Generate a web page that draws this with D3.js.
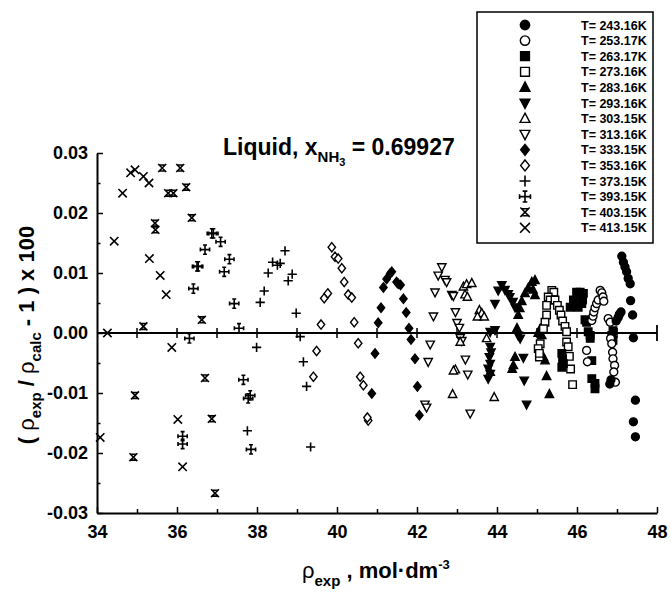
<!DOCTYPE html>
<html>
<head>
<meta charset="utf-8">
<script src="https://cdn.jsdelivr.net/npm/d3@7"></script>
<style>
  body { margin: 0; background: #fff; }
  svg text { font-family: "Liberation Sans", Arial, sans-serif; font-weight: bold; fill: #000; }
</style>
</head>
<body>
<div id="chart"></div>
<script>
// tick values
var xTicks = [34, 36, 38, 40, 42, 44, 46, 48];
var xMinor = [35, 37, 39, 41, 43, 45, 47];
var yTicks = [-0.03, -0.02, -0.01, 0.00, 0.01, 0.02, 0.03];
var yMinor = [-0.025, -0.015, -0.005, 0.005, 0.015, 0.025];
var zeroTicks = [35, 36, 37, 38, 39, 40, 41, 42, 43, 44, 45, 46, 47];

// legend labels (as printed)
var tempLabels = ["T= 243.16K", "T= 253.17K", "T= 263.17K", "T= 273.16K", "T= 283.16K", "T= 293.16K",
  "T= 303.15K", "T= 313.16K", "T= 333.15K", "T= 353.16K", "T= 373.15K", "T= 393.15K", "T= 403.15K", "T= 413.15K"];

// deviations [rho_exp, dev] per isotherm
var t243 = [[46.98,0.0020],[47.03,0.0026],[47.06,0.0031],[47.10,0.0035],[47.12,0.0128],[47.16,0.0118],[47.20,0.0110],
  [47.24,0.0102],[47.28,0.0091],[47.33,0.0082],[47.34,0.0054],[47.39,0.0030],[47.41,-0.0008],[47.46,-0.0112],
  [47.41,-0.0148],[47.46,-0.0173],[46.85,-0.0078],[46.82,-0.0085]];
var t253 = [[46.37,0.0021],[46.40,0.0028],[46.42,0.0035],[46.45,0.0042],[46.49,0.0049],[46.53,0.0055],[46.58,0.0071],
  [46.62,0.0067],[46.65,0.0060],[46.67,0.0053],[46.78,0.0024],[46.83,0.0018],[46.84,-0.0009],[46.87,-0.0018],
  [46.89,-0.0032],[46.90,-0.0043],[46.94,-0.0054],[46.92,-0.0065],[46.96,-0.0082],[46.24,-0.0029],[46.26,-0.0048]];
var t263 = [[45.83,0.0043],[45.91,0.0055],[45.99,0.0068],[46.08,0.0068],[46.12,0.0060],[46.12,0.0049],[46.03,0.0043],
  [46.16,0.0066],[46.14,0.0055],[46.20,0.0022],[46.24,0.0018],[46.28,0.0002],[46.33,-0.0004],[46.33,-0.0009],
  [46.37,-0.0046],[46.37,-0.0076],[46.45,-0.0084],[46.45,-0.0093],[45.62,-0.0034],[45.64,-0.0043],[45.66,-0.0051],
  [45.62,-0.0057],[46.90,0.0004],[46.87,-0.0004],[46.90,-0.0012]];
var t273 = [[45.37,0.0071],[45.42,0.0068],[45.28,0.0060],[45.33,0.0055],[45.24,0.0046],[45.24,0.0030],[45.20,0.0018],
  [45.16,0.0007],[45.08,-0.0018],[45.03,-0.0026],[45.06,-0.0040],[45.06,-0.0034],[45.45,0.0055],[45.51,0.0046],
  [45.56,0.0038],[45.60,0.0030],[45.64,0.0020],[45.70,0.0011],[45.74,0.0002],[45.74,-0.0015],[45.78,-0.0023],
  [45.81,-0.0039],[45.84,-0.0060],[45.89,-0.0086]];
var t283 = [[44.53,0.0030],[44.57,0.0041],[44.62,0.0053],[44.70,0.0066],[44.78,0.0075],[44.87,0.0085],[44.95,0.0088],
  [44.90,0.0072],[44.95,0.0063],[44.41,-0.0054],[44.45,-0.0040],[44.38,-0.0060],[45.08,0.0007],[45.03,0.0000],
  [45.12,-0.0004],[45.16,-0.0040],[45.20,-0.0046],[45.24,-0.0072],[45.31,-0.0102],[44.50,0.0008]];
var t293 = [[43.83,0.0002],[43.95,0.0005],[43.95,0.0049],[44.03,0.0071],[44.12,0.0080],[44.20,0.0072],[44.28,0.0065],
  [44.32,0.0060],[44.40,0.0052],[44.45,0.0043],[43.83,-0.0023],[43.85,-0.0032],[43.81,-0.0040],[43.83,-0.0051],
  [43.78,-0.0059],[43.83,-0.0068],[43.78,-0.0076],[44.53,-0.0004],[44.58,-0.0009],[44.66,-0.0041],[44.68,-0.0079],
  [44.74,-0.0119]];
var t303 = [[43.16,0.0077],[43.24,0.0081],[43.37,0.0083],[43.20,0.0064],[43.26,0.0060],[43.56,0.0038],[43.62,0.0033],
  [43.51,0.0027],[43.68,0.0027],[43.74,-0.0009],[42.96,-0.0061],[42.91,-0.0063],[42.89,-0.0102],[43.93,-0.0107],
  [43.83,-0.0065],[43.08,-0.0015]];
var t313 = [[42.62,0.0110],[42.53,0.0096],[42.70,0.0089],[42.74,0.0085],[42.45,0.0068],[42.87,0.0064],[42.91,0.0062],
  [42.41,0.0028],[42.96,0.0035],[43.00,0.0017],[43.06,0.0009],[43.08,-0.0008],[43.12,-0.0013],[42.33,-0.0019],
  [42.28,-0.0048],[43.21,-0.0044],[43.27,-0.0069],[42.20,-0.0119],[42.24,-0.0124],[43.33,-0.0134]];
var t333 = [[41.03,0.0017],[41.10,0.0042],[41.16,0.0076],[41.24,0.0090],[41.33,0.0099],[41.37,0.0102],[41.49,0.0085],
  [41.53,0.0082],[41.59,0.0080],[41.66,0.0057],[41.73,0.0034],[41.80,0.0008],[41.85,-0.0011],[41.95,-0.0043],
  [42.01,-0.0089],[42.06,-0.0137],[40.95,-0.0034],[40.87,-0.0101]];
var t353 = [[39.87,0.0143],[39.95,0.0127],[40.03,0.0124],[40.12,0.0108],[40.18,0.0085],[40.28,0.0064],[40.37,0.0059],
  [40.43,0.0018],[39.68,0.0058],[39.77,0.0066],[39.60,0.0014],[40.53,-0.0017],[39.49,-0.0030],[39.41,-0.0073],
  [40.58,-0.0073],[40.66,-0.0087],[40.78,-0.0146],[40.76,-0.0141]];
var t373 = [[38.08,0.0051],[38.18,0.0070],[38.28,0.0100],[38.39,0.0118],[38.51,0.0113],[38.58,0.0116],[38.70,0.0137],
  [38.78,0.0087],[38.88,0.0098],[38.98,0.0033],[37.99,-0.0024],[39.08,-0.0006],[39.16,-0.0048],[39.24,-0.0089],
  [37.76,-0.0163],[39.34,-0.0190]];
var t393 = [[36.87,0.0166],[36.91,0.0166],[37.09,0.0152],[36.70,0.0139],[36.50,0.0111],[36.53,0.0111],[37.31,0.0123],
  [37.18,0.0102],[36.41,0.0074],[37.43,0.0049],[37.55,0.0008],[37.66,-0.0078],[37.78,-0.0109],[37.83,-0.0104],
  [37.85,-0.0194],[36.14,-0.0172],[36.14,-0.0185],[36.31,-0.0009]];
var t403 = [[35.63,0.0275],[36.08,0.0275],[36.23,0.0243],[35.78,0.0233],[35.91,0.0233],[35.45,0.0183],[35.46,0.0172],
  [36.37,0.0192],[35.16,0.0011],[34.95,-0.0104],[34.91,-0.0207],[36.70,-0.0075],[36.87,-0.0143],[36.95,-0.0267],
  [36.62,0.0022]];
var t413 = [[34.43,0.0153],[34.64,0.0233],[34.84,0.0267],[34.95,0.0272],[35.16,0.0261],[35.30,0.0250],[35.31,0.0124],
  [35.58,0.0096],[35.73,0.0064],[34.26,0.0000],[34.08,-0.0174],[35.87,-0.0024],[36.02,-0.0144],[36.14,-0.0223]];

var seriesData = [t243, t253, t263, t273, t283, t293, t303, t313, t333, t353, t373, t393, t403, t413];
var seriesShape = ["circle", "circle", "square", "square", "triUp", "triDown", "triUp", "triDown",
  "diamond", "diamond", "plus", "plusBar", "xBar", "cross"];
var seriesFilled = [true, false, true, false, true, true, false, false, true, false, true, true, true, true];

var width = 671, height = 593;
var svg = d3.select("#chart").append("svg")
  .attr("width", width)
  .attr("height", height);

var x = d3.scaleLinear().domain([34, 48]).range([97, 657]);
var y = d3.scaleLinear().domain([-0.03, 0.03]).range([513, 153]);

// marker outlines, centred on 0,0 ; s scales the size
function shapePath(kind, s) {
  var p = d3.path();
  var a;
  if (kind == "circle") {
    a = 3.6 * s; p.moveTo(a, 0); p.arc(0, 0, a, 0, 2 * Math.PI); p.closePath();
  } else if (kind == "square") {
    a = 3.4 * s; p.rect(-a, -a, 2 * a, 2 * a);
  } else if (kind == "triUp") {
    a = 4.2 * s; p.moveTo(0, -a); p.lineTo(a * 0.9, a * 0.7); p.lineTo(-a * 0.9, a * 0.7); p.closePath();
  } else if (kind == "triDown") {
    a = 4.2 * s; p.moveTo(0, a); p.lineTo(a * 0.9, -a * 0.7); p.lineTo(-a * 0.9, -a * 0.7); p.closePath();
  } else if (kind == "diamond") {
    a = 4.2 * s; p.moveTo(0, -a); p.lineTo(a * 0.8, 0); p.lineTo(0, a); p.lineTo(-a * 0.8, 0); p.closePath();
  } else if (kind == "plus") {
    a = 4.2 * s; p.moveTo(-a, 0); p.lineTo(a, 0); p.moveTo(0, -a); p.lineTo(0, a);
  } else if (kind == "plusBar") {
    a = 4.2 * s; var b = 1.8 * s;
    p.moveTo(-a, 0); p.lineTo(a, 0); p.moveTo(0, -a); p.lineTo(0, a);
    p.moveTo(-a, -b); p.lineTo(-a, b); p.moveTo(a, -b); p.lineTo(a, b);
    p.moveTo(-b, -a); p.lineTo(b, -a); p.moveTo(-b, a); p.lineTo(b, a);
  } else if (kind == "xBar") {
    a = 3.6 * s;
    p.moveTo(-a, -a); p.lineTo(a, a); p.moveTo(a, -a); p.lineTo(-a, a);
    p.moveTo(-a * 0.75, -a * 0.75); p.lineTo(a * 0.75, -a * 0.75);
    p.moveTo(-a * 0.75, a * 0.75); p.lineTo(a * 0.75, a * 0.75);
  } else {
    a = 3.8 * s; p.moveTo(-a, -a); p.lineTo(a, a); p.moveTo(a, -a); p.lineTo(-a, a);
  }
  return p.toString();
}

function isLine(kind) { return kind == "plus" || kind == "plusBar" || kind == "xBar" || kind == "cross"; }

function styleMarker(sel, i) {
  var kind = seriesShape[i];
  if (isLine(kind)) {
    sel.attr("fill", "none").attr("stroke", "#000").attr("stroke-width", 1.6);
  } else {
    sel.attr("fill", seriesFilled[i] ? "#000" : "#fff").attr("stroke", "#000").attr("stroke-width", 1.4);
  }
}

// axes
var yAxis = d3.axisLeft(y)
  .tickValues(yTicks)
  .tickSize(-6)
  .tickSizeOuter(0)
  .tickPadding(9)
  .tickFormat(function(d) { return (Math.round(d * 100) / 100).toFixed(2); });
var gy = svg.append("g").attr("transform", "translate(" + x(34) + ",0)").call(yAxis);
svg.append("g").attr("transform", "translate(" + x(34) + ",0)")
  .call(d3.axisLeft(y).tickValues(yMinor).tickSize(-3.5).tickSizeOuter(0).tickFormat(""))
  .select(".domain").remove();

var xAxis = d3.axisBottom(x)
  .tickValues(xTicks)
  .tickSize(-6)
  .tickSizeOuter(0)
  .tickPadding(12)
  .tickFormat(d3.format("d"));
var gx = svg.append("g").attr("transform", "translate(0," + y(-0.03) + ")").call(xAxis);
svg.append("g").attr("transform", "translate(0," + y(-0.03) + ")")
  .call(d3.axisBottom(x).tickValues(xMinor).tickSize(-4).tickSizeOuter(0).tickFormat(""))
  .select(".domain").remove();

svg.selectAll(".domain").attr("stroke-width", 2);
svg.selectAll(".tick line").attr("stroke-width", 1.5);
svg.selectAll(".tick text").style("font-size", "18px").style("font-family", "'Liberation Sans', Arial, sans-serif").style("font-weight", "bold");

// zero line with crossing ticks
svg.append("line")
  .attr("x1", x(34)).attr("x2", x(48))
  .attr("y1", y(0)).attr("y2", y(0))
  .attr("stroke", "#000").attr("stroke-width", 2);
svg.selectAll(".zt").data(zeroTicks).enter().append("line")
  .attr("x1", function(d) { return x(d); }).attr("x2", function(d) { return x(d); })
  .attr("y1", y(0) - 5).attr("y2", y(0) + 5)
  .attr("stroke", "#000").attr("stroke-width", 1.5);
svg.append("line")
  .attr("x1", x(48)).attr("x2", x(48))
  .attr("y1", y(0) - 8).attr("y2", y(0) + 8)
  .attr("stroke", "#000").attr("stroke-width", 1.8);

// points, highest temperature first so the cold ones sit on top
for (var i = seriesData.length - 1; i >= 0; i--) {
  var g = svg.append("g");
  g.selectAll("path").data(seriesData[i]).enter().append("path")
    .attr("d", shapePath(seriesShape[i], 1.1))
    .attr("transform", function(d) { return "translate(" + x(d[0]) + "," + y(d[1]) + ")"; })
    .call(styleMarker, i);
}

// title
var title = svg.append("text").attr("x", 223).attr("y", 155).style("font-size", "23px");
title.append("tspan").text("Liquid, x");
title.append("tspan").attr("dy", 7).style("font-size", "15px").text("NH");
title.append("tspan").attr("dy", 4).style("font-size", "11px").text("3");
title.append("tspan").attr("dy", -11).text(" = 0.69927");

// y label
var yl = svg.append("text")
  .attr("transform", "translate(34,335) rotate(-90)")
  .attr("text-anchor", "middle")
  .style("font-size", "22px");
yl.append("tspan").text("( ");
yl.append("tspan").style("font-weight", "normal").text("ρ");
yl.append("tspan").attr("dy", 7).style("font-size", "15px").text("exp");
yl.append("tspan").attr("dy", -7).text(" / ");
yl.append("tspan").style("font-weight", "normal").text("ρ");
yl.append("tspan").attr("dy", 7).style("font-size", "15px").text("calc");
yl.append("tspan").attr("dy", -7).text(" - 1 ) x 100");

// x label
var xl = svg.append("text").attr("x", 302).attr("y", 578).style("font-size", "22px");
xl.append("tspan").style("font-weight", "normal").text("ρ");
xl.append("tspan").attr("dy", 8).style("font-size", "15px").text("exp");
xl.append("tspan").attr("dy", -8).text(" , mol·dm");
xl.append("tspan").attr("dy", -9).style("font-size", "13px").text("-3");

// legend
var legend = svg.append("g");
legend.append("rect")
  .attr("x", 477).attr("y", 12).attr("width", 176).attr("height", 231)
  .attr("fill", "#fff").attr("stroke", "#000").attr("stroke-width", 1.5);
tempLabels.forEach(function(lab, i) {
  var ry = 25 + i * 15.6;
  legend.append("path")
    .attr("d", shapePath(seriesShape[i], 1.3))
    .attr("transform", "translate(525," + ry + ")")
    .call(styleMarker, i);
  legend.append("text")
    .attr("x", 581).attr("y", ry + 4.5)
    .style("font-size", "12.5px")
    .text(lab);
});
</script>
</body>
</html>
